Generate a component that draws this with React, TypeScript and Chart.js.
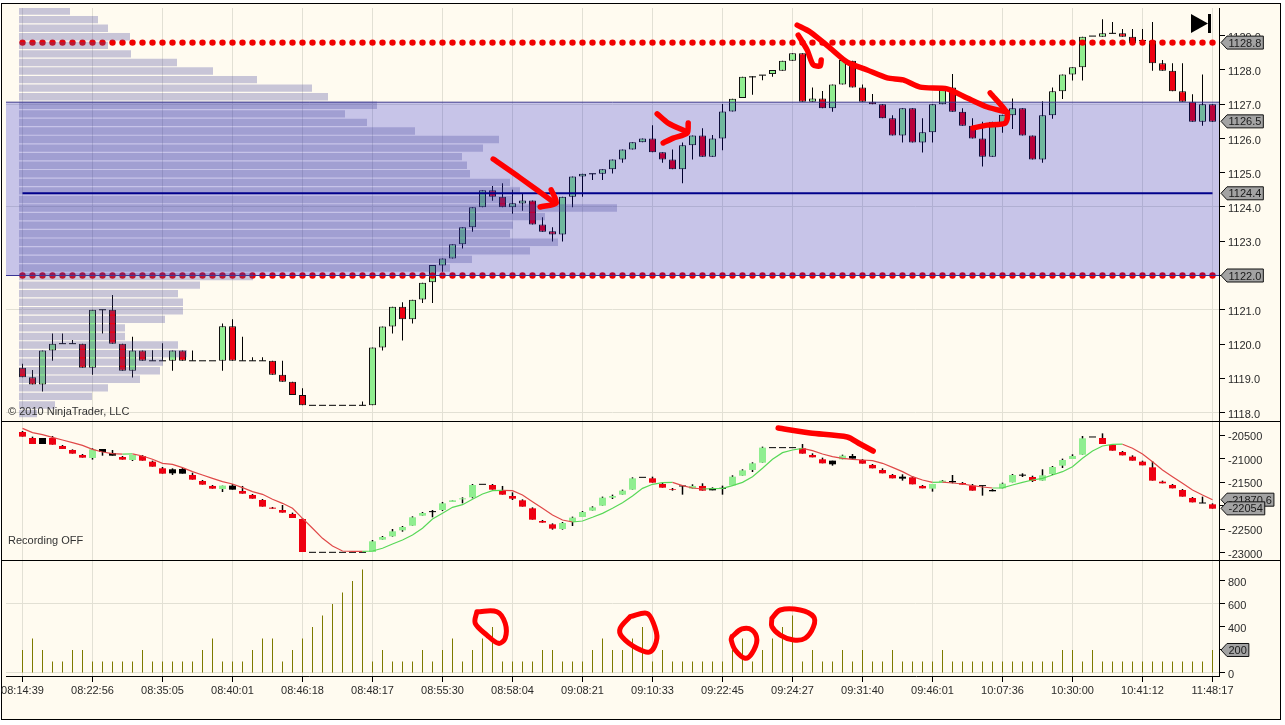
import React, { useEffect, useRef } from "react";
import { Chart, registerables } from "chart.js";

Chart.register(...registerables);

const timeLabels = ["08:14:39","08:22:56","08:35:05","08:40:01","08:46:18","08:48:17","08:55:30","08:58:04","09:08:21","09:10:33","09:22:45","09:24:27","09:31:40","09:46:01","10:07:36","10:30:00","10:41:12","11:48:17"];

const priceOpen = [1119.31,1119.03,1118.82,1119.81,1120.01,1120.01,1120.01,1119.31,1121,1121,1120.01,1119.22,1119.81,1119.51,1119.51,1119.51,1119.81,1119.51,1119.51,1119.51,1119.51,1120.52,1119.51,1119.51,1119.51,1119.51,1119.1,1118.9,1118.51,1118.21,1118.21,1118.21,1118.21,1118.21,1118.21,1118.21,1119.9,1120.51,1121.09,1120.72,1121.3,1121.8,1122.29,1122.5,1122.91,1123.41,1123.99,1124.49,1124.3,1123.99,1124.1,1124.19,1123.49,1123.29,1123.2,1124.3,1124.89,1124.97,1124.97,1125.1,1125.39,1125.68,1125.89,1126,1125.6,1125.39,1125.1,1125.8,1126.09,1125.47,1126,1126.79,1127.18,1127.8,1127.85,1127.88,1127.98,1128.27,1128.49,1127.07,1127.17,1126.88,1127.58,1128.27,1127.49,1127.07,1127,1126.59,1126.09,1126.88,1125.88,1126.18,1127,1127.49,1126.78,1126.37,1126,1125.47,1126.39,1126.68,1126.88,1126.09,1125.39,1126.68,1127.38,1127.87,1128.08,1128.99,1128.97,1129.07,1129.07,1128.97,1128.86,1128.86,1128.2,1127.98,1127.38,1127.07,1126.49,1127];
const priceHigh = [1119.42,1119.24,1119.81,1120.31,1120.31,1120.12,1120.01,1121,1121,1121.43,1120.01,1120.21,1119.81,1119.82,1120.02,1119.81,1119.81,1119.81,1119.51,1119.51,1120.6,1120.72,1120.21,1119.61,1119.61,1119.51,1119.51,1118.9,1118.71,1118.21,1118.21,1118.21,1118.21,1118.21,1118.32,1119.9,1120.51,1121.09,1121.22,1121.29,1121.79,1122.31,1122.5,1122.91,1123.41,1123.99,1124.49,1124.61,1124.69,1124.5,1124.4,1124.19,1123.7,1123.41,1124.3,1124.89,1124.97,1124.97,1125.1,1125.39,1125.68,1125.89,1126,1126.39,1125.6,1125.68,1125.88,1126.09,1126.3,1126.1,1127.01,1127.16,1127.8,1127.82,1127.85,1128,1128.27,1128.49,1128.49,1127.49,1127.39,1127.58,1128.29,1128.27,1127.58,1127.3,1127,1126.68,1126.88,1126.88,1126.59,1127,1127.49,1127.88,1126.88,1126.59,1126.49,1126.49,1126.69,1127.17,1126.88,1126.09,1127.09,1127.49,1127.87,1128.08,1128.97,1128.99,1129.48,1129.4,1129.2,1129.2,1129.2,1129.4,1128.29,1128.2,1128.2,1127.29,1127.87,1127];
const priceLow = [1119.03,1118.82,1118.61,1119.51,1120.01,1120.01,1119.31,1119.1,1120.31,1120.01,1119.22,1119.02,1119.51,1119.51,1119.51,1119.22,1119.51,1119.51,1119.51,1119.51,1119.22,1119.51,1119.51,1119.51,1119.51,1119.1,1118.9,1118.51,1118.21,1118.21,1118.21,1118.21,1118.21,1118.21,1118.21,1118.21,1119.81,1120.31,1120.1,1120.6,1121.2,1121.2,1122.11,1122.5,1122.79,1123.28,1123.99,1124.18,1123.99,1123.8,1123.89,1123.49,1123.28,1122.99,1122.99,1123.99,1124.3,1124.79,1124.79,1124.98,1125.29,1125.68,1125.89,1125.6,1125.29,1125.1,1124.69,1125.39,1125.47,1125.47,1125.66,1126.79,1127.18,1127.28,1127.7,1127.8,1127.98,1128.27,1127.07,1127.07,1126.88,1126.78,1127.58,1127.49,1127.07,1127,1126.59,1126.09,1125.88,1125.88,1125.59,1125.88,1127,1126.78,1126.37,1126,1125.18,1125.47,1126.17,1126.28,1126.09,1125.39,1125.29,1126.58,1127.15,1127.69,1127.69,1128.99,1128.97,1129.07,1128.97,1128.78,1128.86,1127.98,1127.98,1127.38,1127.07,1126.49,1126.37,1126.49];
const priceClose = [1119.03,1118.82,1119.81,1120.01,1120.01,1120.01,1119.31,1121,1121,1120.01,1119.22,1119.81,1119.51,1119.51,1119.51,1119.81,1119.51,1119.51,1119.51,1119.51,1120.52,1119.51,1119.51,1119.51,1119.51,1119.1,1118.9,1118.51,1118.21,1118.21,1118.21,1118.21,1118.21,1118.21,1118.21,1119.9,1120.51,1121.09,1120.72,1121.29,1121.79,1122.31,1122.5,1122.91,1123.41,1123.99,1124.49,1124.3,1123.99,1124.11,1124.19,1123.49,1123.28,1123.2,1124.3,1124.89,1124.97,1124.97,1125.1,1125.39,1125.68,1125.89,1126,1125.6,1125.39,1125.1,1125.8,1126.09,1125.47,1126,1126.79,1127.16,1127.8,1127.8,1127.85,1128,1128.27,1128.49,1127.07,1127.17,1126.88,1127.58,1128.29,1127.49,1127.07,1127,1126.59,1126.09,1126.88,1125.88,1126.18,1127,1127.49,1126.78,1126.37,1126,1125.47,1126.49,1126.69,1126.88,1126.09,1125.39,1126.68,1127.38,1127.87,1128.08,1128.97,1128.99,1129.07,1129.07,1128.97,1128.78,1128.86,1128.2,1127.98,1127.38,1127.07,1126.49,1127,1126.49];

const profilePrices = [1129.72,1129.47,1129.22,1128.97,1128.72,1128.47,1128.22,1127.97,1127.72,1127.47,1127.22,1126.97,1126.72,1126.47,1126.22,1125.97,1125.72,1125.47,1125.22,1124.97,1124.72,1124.47,1124.22,1123.97,1123.72,1123.47,1123.22,1122.97,1122.72,1122.47,1122.22,1121.97,1121.72,1121.47,1121.22,1120.97,1120.72,1120.47,1120.22,1119.97,1119.72,1119.47,1119.22,1118.97,1118.72,1118.47,1118.22,1117.97];
const profileVolume = [51,79,89,111,89,112,158,194,238,293,309,358,326,348,396,480,464,443,448,451,491,501,494,598,526,494,491,539,511,453,431,234,181,159,164,164,146,106,106,159,168,144,141,121,89,73,36,18];

const pocPrice = 1124.4;
const valueAreaHigh = 1127.06;
const valueAreaLow = 1122;
const sessionHigh = 1128.8;
const lastPrice = 1126.5;

const cvdOpen = [-20436,-20563,-20563,-20563,-20733,-20818,-20924,-20987,-20796,-20881,-20966,-21030,-20945,-21065,-21206,-21227,-21220,-21347,-21475,-21580,-21644,-21573,-21686,-21771,-21877,-22040,-22089,-22174,-22280,-22986,-22986,-22986,-22986,-22986,-22986,-22979,-22718,-22647,-22520,-22421,-22209,-22124,-22089,-21919,-21863,-21821,-21545,-21559,-21679,-21792,-21884,-22054,-22322,-22393,-22492,-22343,-22237,-22103,-21997,-21828,-21764,-21658,-21397,-21418,-21538,-21644,-21580,-21637,-21580,-21623,-21630,-21566,-21362,-21241,-21086,-20768,-20768,-20768,-20782,-20924,-21015,-21044,-21015,-20945,-21030,-21135,-21241,-21347,-21383,-21397,-21580,-21637,-21503,-21475,-21517,-21573,-21573,-21665,-21630,-21503,-21340,-21390,-21467,-21326,-21150,-21008,-20917,-20542,-20563,-20712,-20860,-20959,-21065,-21185,-21489,-21559,-21665,-21835,-21941,-21969];
const cvdHigh = [-20415,-20535,-20563,-20521,-20712,-20804,-20902,-20782,-20796,-20818,-20945,-20924,-20924,-21044,-21178,-21206,-21199,-21298,-21453,-21559,-21573,-21538,-21580,-21750,-21856,-22025,-21983,-22145,-22259,-22986,-22986,-22986,-22986,-22986,-22986,-22725,-22640,-22492,-22428,-22223,-22131,-22089,-21919,-21884,-21821,-21538,-21545,-21538,-21580,-21715,-21863,-22033,-22301,-22372,-22343,-22230,-22110,-22011,-21806,-21764,-21658,-21397,-21397,-21383,-21517,-21623,-21580,-21545,-21524,-21609,-21573,-21354,-21227,-21079,-20747,-20768,-20768,-20768,-20691,-20888,-20980,-21044,-20917,-20902,-21008,-21114,-21206,-21326,-21333,-21369,-21559,-21538,-21453,-21347,-21496,-21538,-21573,-21644,-21510,-21326,-21312,-21362,-21227,-21157,-21001,-20909,-20521,-20542,-20465,-20691,-20839,-20931,-21044,-21051,-21467,-21538,-21644,-21814,-21806,-21948];
const cvdLow = [-20535,-20691,-20691,-20705,-20796,-20895,-20980,-21022,-20938,-20938,-21022,-21051,-21044,-21171,-21319,-21347,-21319,-21446,-21552,-21637,-21708,-21658,-21743,-21849,-22018,-22061,-22145,-22259,-22979,-22986,-22986,-22986,-22986,-22986,-22986,-22979,-22718,-22654,-22548,-22421,-22209,-22244,-22110,-21919,-21948,-21842,-21545,-21658,-21764,-21877,-22018,-22294,-22357,-22506,-22506,-22428,-22237,-22103,-21997,-21856,-21764,-21658,-21397,-21510,-21616,-21679,-21764,-21637,-21679,-21672,-21764,-21566,-21362,-21284,-21086,-20768,-20768,-20768,-20895,-20973,-21100,-21150,-21015,-21001,-21107,-21206,-21312,-21418,-21467,-21545,-21630,-21700,-21503,-21524,-21552,-21679,-21785,-21693,-21630,-21503,-21390,-21496,-21467,-21347,-21199,-21008,-20917,-20542,-20691,-20832,-20931,-21044,-21143,-21467,-21524,-21630,-21806,-21927,-21941,-22061];
const cvdClose = [-20535,-20691,-20691,-20705,-20796,-20895,-20980,-20804,-20860,-20938,-21022,-20924,-21044,-21171,-21319,-21312,-21319,-21446,-21552,-21637,-21573,-21658,-21743,-21849,-22018,-22061,-22145,-22259,-22979,-22986,-22986,-22986,-22986,-22986,-22986,-22753,-22661,-22541,-22449,-22244,-22153,-22124,-21948,-21884,-21842,-21559,-21545,-21658,-21764,-21849,-22018,-22294,-22357,-22484,-22364,-22251,-22131,-22033,-21828,-21792,-21679,-21418,-21397,-21510,-21616,-21658,-21580,-21580,-21679,-21672,-21630,-21383,-21249,-21100,-20768,-20768,-20768,-20768,-20895,-20973,-21100,-21121,-20938,-21001,-21107,-21206,-21312,-21418,-21425,-21545,-21630,-21538,-21467,-21503,-21552,-21679,-21573,-21693,-21531,-21347,-21362,-21475,-21354,-21178,-21030,-20945,-20570,-20542,-20691,-20832,-20931,-21044,-21143,-21467,-21524,-21630,-21806,-21927,-21941,-22061];
const cvdBlackBars = [2,8,9,15,16,21,69,81,83,88,93,97,100];
const cvdAverage = [-20359,-20450,-20493,-20549,-20606,-20662,-20719,-20804,-20860,-20895,-20905,-20900,-20945,-21015,-21100,-21121,-21192,-21277,-21347,-21418,-21489,-21538,-21616,-21700,-21757,-21863,-21948,-22054,-22266,-22477,-22689,-22852,-22958,-22965,-22965,-22958,-22901,-22809,-22725,-22619,-22477,-22280,-22160,-22033,-21976,-21863,-21750,-21679,-21672,-21679,-21771,-21912,-22054,-22195,-22301,-22343,-22322,-22244,-22160,-22054,-21934,-21792,-21630,-21545,-21510,-21503,-21573,-21623,-21644,-21637,-21630,-21573,-21503,-21383,-21206,-21015,-20874,-20818,-20782,-20832,-20902,-20959,-20994,-21015,-21030,-21044,-21100,-21185,-21277,-21383,-21453,-21503,-21500,-21517,-21538,-21573,-21602,-21623,-21620,-21559,-21503,-21453,-21418,-21347,-21277,-21171,-20994,-20839,-20733,-20698,-20695,-20782,-20902,-21065,-21241,-21383,-21524,-21665,-21771,-21870.6];
const cvdLast = -22054;

const volumeValues = [200,300,200,100,100,200,200,100,100,100,100,100,200,100,100,100,100,100,200,300,100,100,100,200,300,300,100,200,300,400,500,600,700,800,900,100,200,100,100,100,200,100,200,300,100,200,300,400,100,100,100,100,200,200,100,100,100,200,300,200,200,300,400,100,200,100,100,100,100,100,100,200,300,100,200,300,400,500,100,200,100,100,200,100,200,100,100,200,100,100,100,100,200,100,100,100,100,100,100,100,100,100,100,100,200,200,100,200,100,100,100,100,100,100,100,100,100,100,100,200];

const inkPriceStrokes = [
  [[47.07,1125.4],[49.77,1124.85],[53.07,1124.15]],
  [[52.87,1124.5],[53.37,1124.12],[51.77,1124]],
  [[63.47,1126.72],[64.57,1126.45],[66.47,1126.19]],
  [[66.57,1126.45],[66.47,1126.16],[65.07,1126.01],[64.07,1125.87]],
  [[77.57,1129.02],[78.47,1128.58],[79.07,1128.15],[79.77,1128.12],[79.87,1128.29]],
  [[77.47,1129.31],[78.77,1129.11],[80.77,1128.64],[82.47,1128.23],[84.47,1128],[86.47,1127.77],[88.07,1127.71],[89.77,1127.5],[92.47,1127.45],[94.47,1127.18],[96.47,1126.92],[98.47,1126.77]],
  [[96.77,1127.33],[98.47,1126.74],[98.27,1126.45],[96.47,1126.39],[95.07,1126.31]],
];
const inkCvdStroke = [[75.57,-20352],[78.77,-20458],[82.47,-20542],[83.77,-20691],[85.07,-20839]];
const inkVolumeLoops = [
  [[45.44,533],[47.44,533],[48.27,432],[48.27,302],[47.6,258],[46.44,330],[45.27,432],[45.44,533]],
  [[60.77,490],[62.44,519],[63.1,432],[63.44,302],[62.77,185],[61.44,215],[59.94,316],[59.77,389],[60.77,490]],
  [[70.94,316],[71.94,383],[72.94,374],[73.44,287],[72.94,171],[72.27,128],[71.27,200],[70.87,287],[70.94,316]],
  [[74.94,476],[75.77,548],[77.77,548],[79.1,490],[79.1,403],[78.27,302],[77.1,287],[75.77,330],[74.94,403],[74.94,476]],
];

const priceTicks = [1118,1119,1120,1121,1122,1123,1124,1125,1126,1127,1128,1129];
const priceGrid = [1118,1121,1124,1127];
const cvdTicks = [-20500,-21000,-21500,-22000,-22500,-23000];
const volumeTicks = [0,200,400,600,800];
const volumeGrid = [0,600];

const X_MIN = -1.65;
const X_MAX = 119.65;
const GRID = "#e2e0d4";
const FONT = "11px 'Liberation Sans', Arial, sans-serif";
const TEXT = "#2a2a2a";
const UP = "#90ee90";
const DOWN = "#ee0011";
const INK = "#ff0000";
// Room kept around each plot so Chart.js's dataset overflow padding does not shrink it.
const BLEED = 10;

const xScale = (labels: boolean) => ({
  type: "linear",
  position: "bottom",
  min: X_MIN,
  max: X_MAX,
  offset: false,
  afterBuildTicks: (axis: any) => {
    axis.ticks = timeLabels.map((_, k) => ({ value: k * 7 }));
  },
  afterFit: (s: any) => {
    s.height = labels ? 49 : BLEED;
    s.paddingLeft = 0;
    s.paddingRight = 0;
  },
  grid: { color: GRID, offset: false, drawTicks: labels, tickLength: 6, tickColor: "#000" },
  border: { display: labels, color: "#000" },
  ticks: {
    display: labels,
    autoSkip: false,
    maxRotation: 0,
    minRotation: 0,
    padding: 2,
    color: TEXT,
    font: { family: "'Liberation Sans', Arial, sans-serif", size: 11 },
    callback: (v: number) => timeLabels[v / 7],
  },
});

const yScale = (min: number, max: number, ticks: number[], gridAt: number[], fmt: (v: number) => string) => ({
  type: "linear",
  position: "right",
  min,
  max,
  offset: false,
  afterBuildTicks: (axis: any) => {
    axis.ticks = ticks.map((value) => ({ value }));
  },
  afterFit: (s: any) => {
    s.width = 66;
    s.paddingTop = 0;
    s.paddingBottom = 0;
  },
  grid: {
    offset: false,
    tickLength: 6,
    tickColor: "#000",
    color: (c: any) => (c.tick && gridAt.includes(c.tick.value) ? GRID : "rgba(0,0,0,0)"),
  },
  border: { display: true, color: "#000" },
  ticks: {
    autoSkip: false,
    padding: 3,
    labelOffset: 2,
    color: TEXT,
    font: { family: "'Liberation Sans', Arial, sans-serif", size: 11 },
    callback: (v: number) => fmt(Number(v)),
  },
});

function candleDatasets(open: number[], high: number[], low: number[], close: number[], opts: any) {
  const idx = open.map((_, i) => i);
  const bodies = idx.filter((i) => open[i] !== close[i]);
  const flats = idx.filter((i) => open[i] === close[i]);
  const fill = (i: number) =>
    opts.black && opts.black.includes(i) ? "#000" : close[i] > open[i] ? UP : DOWN;
  return [
    {
      type: "bar",
      order: 40,
      grouped: false,
      barThickness: opts.wick,
      inflateAmount: 0,
      backgroundColor: "#000",
      borderWidth: 0,
      data: idx.map((i) => ({ x: i, y: [low[i], high[i]] })),
    },
    {
      type: "bar",
      order: 30,
      grouped: false,
      barThickness: 7,
      inflateAmount: 0,
      backgroundColor: bodies.map(fill),
      borderColor: "#111",
      borderWidth: opts.border,
      borderSkipped: false,
      data: bodies.map((i) => ({ x: i, y: [open[i], close[i]] })),
    },
    {
      type: "line",
      order: 29,
      showLine: false,
      pointStyle: "line",
      pointRadius: 3.5,
      pointBorderColor: "#000",
      pointBorderWidth: 1,
      data: flats.map((i) => ({ x: i, y: close[i] })),
    },
  ];
}

const inkDataset = (points: number[][], tension: number, width: number) => ({
  type: "line",
  order: 0,
  data: points.map(([x, y]) => ({ x, y })),
  borderColor: INK,
  borderWidth: width,
  borderCapStyle: "round",
  borderJoinStyle: "round",
  pointRadius: 0,
  tension,
  fill: false,
});

const dotLine = (price: number) => ({
  type: "line",
  order: 20,
  showLine: false,
  pointStyle: "circle",
  pointRadius: 3.2,
  pointBorderWidth: 0,
  pointBackgroundColor: "#f00000",
  data: priceOpen.map((_, i) => ({ x: i, y: price })),
});

function drawTag(ctx: CanvasRenderingContext2D, y: number, text: string) {
  ctx.save();
  ctx.font = FONT;
  const tip = 1221;
  const shoulder = 1227;
  const right = 1229 + ctx.measureText(text).width + 1.5;
  ctx.beginPath();
  ctx.moveTo(tip, y);
  ctx.lineTo(shoulder, y - 6.5);
  ctx.lineTo(right, y - 6.5);
  ctx.lineTo(right, y + 6.5);
  ctx.lineTo(shoulder, y + 6.5);
  ctx.closePath();
  ctx.fillStyle = "#a3a3a3";
  ctx.fill();
  ctx.strokeStyle = "#111";
  ctx.lineWidth = 1;
  ctx.stroke();
  ctx.fillStyle = "#1a1a1a";
  ctx.textBaseline = "middle";
  ctx.textAlign = "left";
  ctx.fillText(text, 1228.5, y + 1);
  ctx.restore();
}

function caption(ctx: CanvasRenderingContext2D, text: string, x: number, y: number) {
  ctx.save();
  ctx.font = FONT;
  ctx.fillStyle = "#333";
  ctx.textBaseline = "middle";
  ctx.textAlign = "left";
  ctx.fillText(text, x, y);
  ctx.restore();
}

const baseOptions = (padding: any, scales: any) => ({
  responsive: false,
  animation: false,
  devicePixelRatio: 1,
  events: [],
  layout: { padding },
  plugins: { legend: { display: false }, tooltip: { enabled: false } },
  scales,
});

export default function App() {
  const priceRef = useRef<HTMLCanvasElement>(null);
  const cvdRef = useRef<HTMLCanvasElement>(null);
  const volRef = useRef<HTMLCanvasElement>(null);

  useEffect(() => {
    const priceChart = new Chart(priceRef.current as any, {
      type: "line",
      data: {
        datasets: [
          ...inkPriceStrokes.map((s) => inkDataset(s, 0.25, 5.5)),
          {
            type: "line",
            order: 1,
            data: [{ x: 0, y: pocPrice }, { x: 119, y: pocPrice }],
            borderColor: "#00008b",
            borderWidth: 2,
            pointRadius: 0,
          },
          {
            type: "bar",
            order: 2,
            indexAxis: "y",
            xAxisID: "xp",
            yAxisID: "y",
            grouped: false,
            barThickness: 7.4,
            inflateAmount: 0,
            backgroundColor: "rgba(72,74,160,0.3)",
            borderWidth: 0,
            data: profileVolume.map((v, i) => ({ x: v, y: profilePrices[i] })),
          },
          {
            type: "line",
            order: 3,
            data: [{ x: X_MIN, y: valueAreaHigh }, { x: X_MAX, y: valueAreaHigh }],
            borderColor: "#3f3b8f",
            borderWidth: 1,
            pointRadius: 0,
            backgroundColor: "rgba(0,0,204,0.22)",
            fill: { target: { value: valueAreaLow } },
          },
          {
            type: "line",
            order: 3,
            data: [{ x: X_MIN, y: valueAreaLow }, { x: X_MAX, y: valueAreaLow }],
            borderColor: "#3f3b8f",
            borderWidth: 1,
            pointRadius: 0,
          },
          dotLine(sessionHigh),
          dotLine(valueAreaLow),
          ...candleDatasets(priceOpen, priceHigh, priceLow, priceClose, { wick: 1, border: 1 }),
        ],
      } as any,
      options: baseOptions(
        { left: 6, top: 8, right: 0, bottom: 0 },
        {
          x: xScale(false),
          xp: { type: "linear", display: false, min: -13, max: 1200, offset: false, grid: { offset: false } },
          y: yScale(1117.752, 1129.81, priceTicks, priceGrid, (v) => v.toFixed(1)),
        }
      ) as any,
      plugins: [
        {
          id: "priceExtras",
          afterDraw(chart: any) {
            const ctx = chart.ctx as CanvasRenderingContext2D;
            const y = chart.scales.y;
            drawTag(ctx, y.getPixelForValue(sessionHigh), sessionHigh.toFixed(1));
            drawTag(ctx, y.getPixelForValue(lastPrice), lastPrice.toFixed(1));
            drawTag(ctx, y.getPixelForValue(pocPrice), pocPrice.toFixed(1));
            drawTag(ctx, y.getPixelForValue(valueAreaLow), valueAreaLow.toFixed(1));
            caption(ctx, "© 2010 NinjaTrader, LLC", 8, 412);
            ctx.save();
            ctx.fillStyle = "#000";
            ctx.beginPath();
            ctx.moveTo(1191, 14);
            ctx.lineTo(1208, 23.5);
            ctx.lineTo(1191, 33);
            ctx.closePath();
            ctx.fill();
            ctx.fillRect(1208, 14, 3, 19);
            ctx.restore();
          },
        },
      ],
    } as any);

    const cvdChart = new Chart(cvdRef.current as any, {
      type: "line",
      data: {
        datasets: [
          inkDataset(inkCvdStroke, 0.25, 5.5),
          {
            type: "line",
            order: 10,
            data: cvdAverage.map((y, x) => ({ x, y })),
            borderWidth: 1.2,
            pointRadius: 0,
            borderColor: "#e04848",
            segment: {
              borderColor: (c: any) => (c.p1.parsed.y > c.p0.parsed.y ? "#58d858" : "#e04848"),
            },
          },
          ...candleDatasets(cvdOpen, cvdHigh, cvdLow, cvdClose, { wick: 1.5, border: 0, black: cvdBlackBars }),
        ],
      } as any,
      options: baseOptions(
        { left: 6, top: 1 + BLEED, right: 0, bottom: 0 },
        {
          x: xScale(false),
          y: yScale(-23148.8, -20224.5, cvdTicks, [], (v) => String(v)),
        }
      ) as any,
      plugins: [
        {
          id: "cvdExtras",
          afterDraw(chart: any) {
            const ctx = chart.ctx as CanvasRenderingContext2D;
            const y = chart.scales.y;
            drawTag(ctx, y.getPixelForValue(cvdAverage[cvdAverage.length - 1]), "-21870.6");
            drawTag(ctx, y.getPixelForValue(cvdLast), String(cvdLast));
            caption(ctx, "Recording OFF", 8, 120 + BLEED);
          },
        },
      ],
    } as any);

    const volChart = new Chart(volRef.current as any, {
      type: "line",
      data: {
        datasets: [
          ...inkVolumeLoops.map((s) => inkDataset(s, 0.35, 5)),
          {
            type: "bar",
            order: 5,
            grouped: false,
            barThickness: 1,
            inflateAmount: 0,
            backgroundColor: "#7d7a00",
            borderWidth: 0,
            data: volumeValues.map((y, x) => ({ x, y })),
          },
        ],
      } as any,
      options: baseOptions(
        { left: 6, top: BLEED, right: 0, bottom: 0 },
        {
          x: xScale(true),
          y: yScale(-26.09, 973.9, volumeTicks, volumeGrid, (v) => String(v)),
        }
      ) as any,
      plugins: [
        {
          id: "volExtras",
          afterDraw(chart: any) {
            const y = chart.scales.y;
            drawTag(chart.ctx, y.getPixelForValue(volumeValues[volumeValues.length - 1]), "200");
          },
        },
      ],
    } as any);

    return () => {
      priceChart.destroy();
      cvdChart.destroy();
      volChart.destroy();
    };
  }, []);

  const abs = (left: number, top: number): React.CSSProperties => ({ position: "absolute", left, top, display: "block" });

  return (
    <div style={{ position: "absolute", left: 0, top: 0, width: 1285, height: 725, background: "#fff", overflow: "hidden" }}>
      <div style={{ position: "absolute", left: 1, top: 3, width: 1280, height: 717, boxSizing: "border-box", border: "1px solid #000", background: "#fffbf0" }} />
      <canvas ref={priceRef} width={1285} height={431} style={abs(0, 0)} />
      <canvas ref={cvdRef} width={1285} height={159} style={abs(0, 411)} />
      <canvas ref={volRef} width={1285} height={174} style={abs(0, 551)} />
      <div style={{ position: "absolute", left: 1, top: 421, width: 1280, height: 1, background: "#000" }} />
      <div style={{ position: "absolute", left: 1, top: 560, width: 1280, height: 1, background: "#000" }} />
    </div>
  );
}
